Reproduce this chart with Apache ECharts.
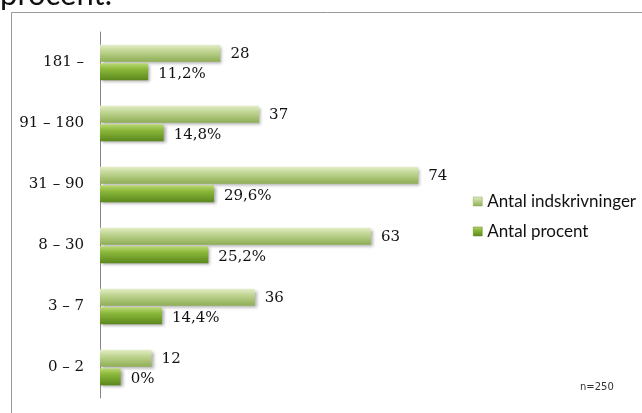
<!DOCTYPE html>
<html><head><meta charset="utf-8">
<script src="https://cdn.jsdelivr.net/npm/echarts@6/dist/echarts.min.js"></script>
<style>html,body{margin:0;padding:0;background:#fff}#c{width:642px;height:413px}</style>
</head><body><div id="c"></div>
<script>
const categories = ['0 – 2', '3 – 7', '8 – 30', '31 – 90', '91 – 180', '181 –'];
const countValues = [12, 36, 63, 74, 37, 28];
const percentValues = [4.8, 14.4, 25.2, 26.5, 14.8, 11.2];
const percentLabels = ['0%', '14,4%', '25,2%', '29,6%', '14,8%', '11,2%'];
const seriesNames = ['Antal indskrivninger', 'Antal procent'];

const chart = echarts.init(document.getElementById('c'), null, {renderer: 'canvas'});
const grad = (a, b, c) => new echarts.graphic.LinearGradient(0, 0, 0, 1, [
  {offset: 0, color: a}, {offset: 0.35, color: b}, {offset: 1, color: c}
]);
const lightFill = grad('#e4eec9', '#c2d795', '#8fae55');
const darkFill = grad('#b9d874', '#8bb83a', '#5a871c');
const labelFont = {fontFamily: 'DejaVu Serif', fontSize: 15, color: '#111'};

chart.setOption({
  animation: false,
  graphic: [
    {type: 'rect', shape: {x: 11.5, y: 12.5, width: 700, height: 500}, style: {fill: '#fff', stroke: '#999', lineWidth: 1}, z: -10},
    {type: 'text', left: 0, top: -21, style: {text: 'procent.', font: '31px Lato', fill: '#111'}},
    {type: 'text', left: 580, top: 382, style: {text: 'n=250', font: '10px "DejaVu Sans"', fill: '#333'}}
  ],
  legend: {
    orient: 'vertical', left: 468, top: 188, itemGap: 13,
    itemWidth: 9, itemHeight: 9, icon: 'rect',
    data: [
      {name: seriesNames[0], itemStyle: {color: lightFill, borderColor: '#8aa55a', borderWidth: 0.5}},
      {name: seriesNames[1], itemStyle: {color: darkFill, borderColor: '#5d8a1f', borderWidth: 0.5}}
    ],
    textStyle: {fontFamily: 'Lato', fontSize: 17, color: '#111'}
  },
  grid: {left: 100, top: 32, bottom: 15, width: 344, containLabel: false},
  xAxis: {type: 'value', min: 0, max: 80, show: false},
  yAxis: {
    type: 'category', data: categories,
    axisLine: {lineStyle: {color: '#868686'}},
    axisTick: {length: 5, lineStyle: {color: '#868686'}},
    axisLabel: {fontFamily: 'DejaVu Serif', fontSize: 15, color: '#111', margin: 16}
  },
  series: [
    {
      name: seriesNames[0], type: 'bar', data: countValues,
      barWidth: 17, barGap: '10%',
      itemStyle: {color: lightFill, shadowColor: 'rgba(0,0,0,0.3)', shadowBlur: 3, shadowOffsetX: 2, shadowOffsetY: 2},
      label: Object.assign({show: true, position: 'right', distance: 10, offset: [0, 1]}, labelFont)
    },
    {
      name: seriesNames[1], type: 'bar', data: percentValues,
      barWidth: 17, barGap: '10%',
      itemStyle: {color: darkFill, shadowColor: 'rgba(0,0,0,0.35)', shadowBlur: 3, shadowOffsetX: 2, shadowOffsetY: 2},
      label: Object.assign({show: true, position: 'right', distance: 10, offset: [0, 2],
        formatter: p => percentLabels[p.dataIndex]}, labelFont)
    }
  ]
});
</script></body></html>
